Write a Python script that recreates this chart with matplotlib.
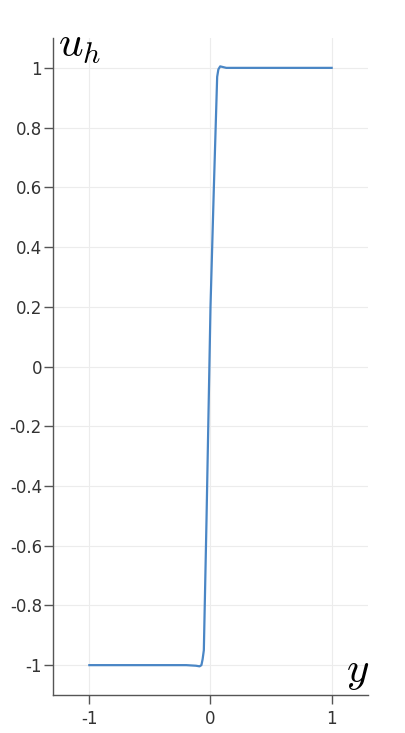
import matplotlib
matplotlib.use("Agg")
import matplotlib.pyplot as plt

plt.rcParams['mathtext.fontset'] = 'cm'
plt.rcParams['font.family'] = ['DejaVu Sans']

# solution (y -> u_h)
y = [-1.0, -0.5, -0.2, -0.12, -0.09, -0.075, -0.065, -0.055, -0.033, 0.0,
     0.027, 0.055, 0.065, 0.08, 0.1, 0.13, 0.5, 1.0]
u_h = [-1.0, -1.0, -1.0, -1.002, -1.004, -1.0, -0.98, -0.95, -0.515, 0.2,
       0.589, 0.97, 0.995, 1.005, 1.003, 1.0, 1.0, 1.0]

xticks = [-1, 0, 1]
yticks = [-1, -0.8, -0.6, -0.4, -0.2, 0, 0.2, 0.4, 0.6, 0.8, 1]
ytick_labels = ['-1', '-0.8', '-0.6', '-0.4', '-0.2', '0', '0.2', '0.4', '0.6', '0.8', '1']

fig = plt.figure(figsize=(4.06, 7.33), dpi=100)
ax = fig.add_axes([53/406, 1 - 695/733, 315/406, 657/733])

ax.plot(y, u_h, color='#4a86c5', linewidth=1.6)

ax.set_xlim(-1.3, 1.3)
ax.set_ylim(-1.1, 1.1)
ax.set_xticks(xticks)
ax.set_xticklabels([str(t) for t in xticks])
ax.set_yticks(yticks)
ax.set_yticklabels(ytick_labels)

ax.grid(True, color='#ececec', linewidth=0.8)
ax.set_axisbelow(True)
for s in ['top', 'right']:
    ax.spines[s].set_visible(False)
for s in ['left', 'bottom']:
    ax.spines[s].set_color('#555555')
    ax.spines[s].set_linewidth(1.0)
ax.tick_params(direction='out', length=6.5, width=1.0, color='#555555',
               labelcolor='#333333', labelsize=12)
ax.tick_params(axis='y', pad=1.5)
ax.tick_params(axis='x', pad=4)

fig.text(58/406, 1 - 57/733, r'$u_h$', fontsize=31, color='black', va='baseline')
fig.text(346/406, 1 - 682/733, r'$y$', fontsize=31, color='black', va='baseline')

fig.savefig('out.png', dpi=100)
